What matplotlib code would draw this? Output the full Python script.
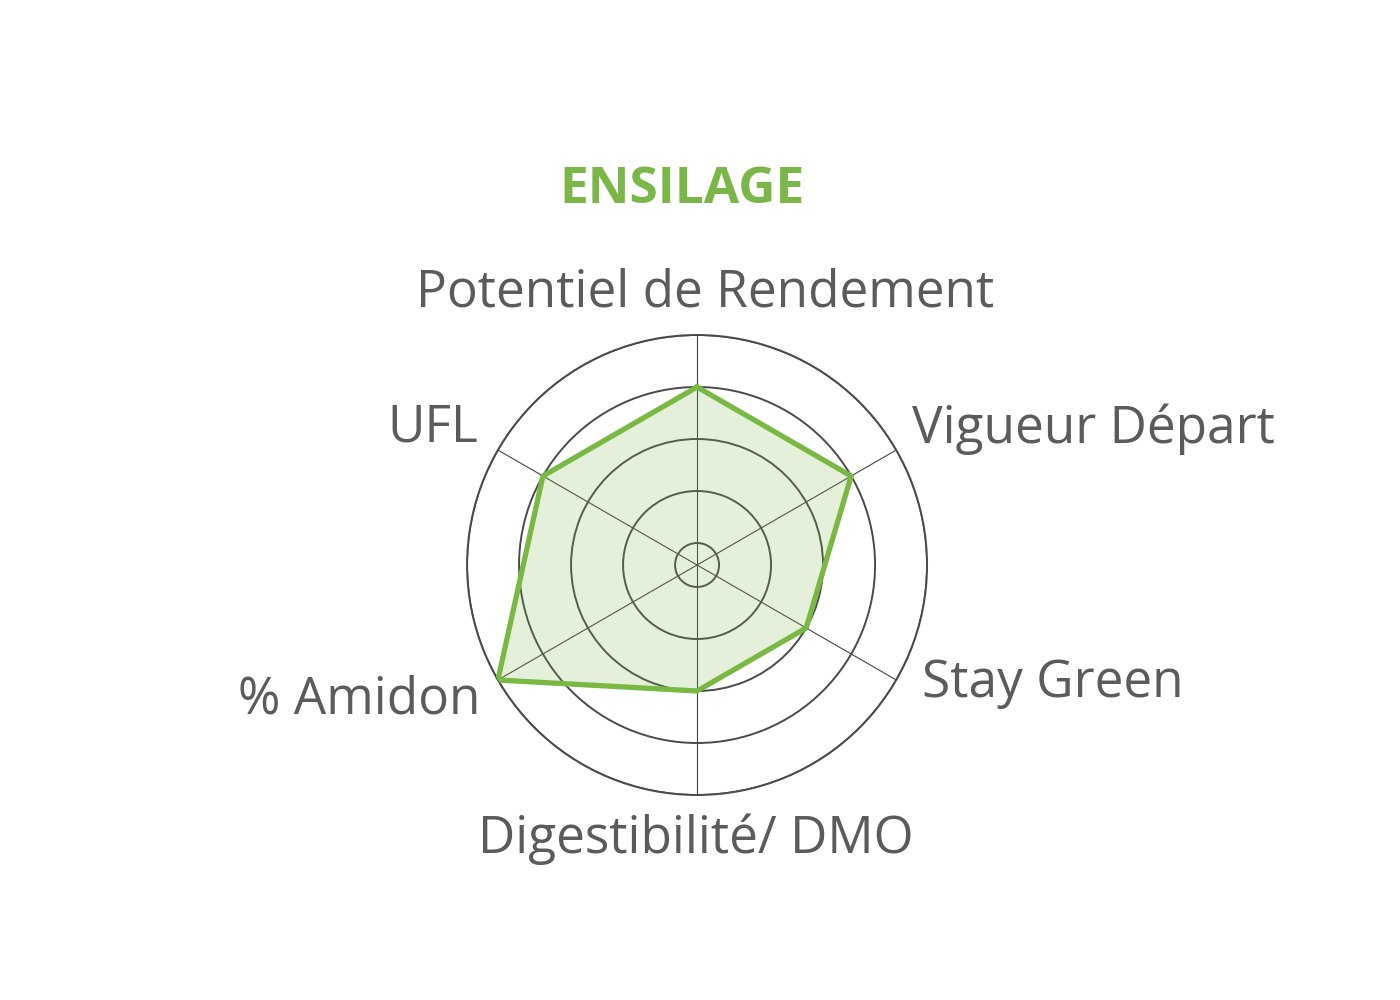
import numpy as np
import matplotlib.pyplot as plt

# données du radar
categories = ['Potentiel de Rendement', 'Vigueur Départ', 'Stay Green',
              'Digestibilité/ DMO', '% Amidon', 'UFL']
valeurs = [4, 4, 3, 3, 5, 4]
anneaux = [1, 2, 3, 4, 5]

vert = '#78b843'
gris = '#5b5b5d'
plt.rcParams['font.family'] = ['Open Sans', 'DejaVu Sans']

fig = plt.figure(figsize=(14, 10), dpi=100)
ax = fig.add_axes([0.3336, 0.205, 0.3286, 0.46], projection='polar')
ax.set_theta_zero_location('N')
ax.set_theta_direction(-1)

angles = np.deg2rad(np.arange(len(categories)) * 360 / len(categories))
ax.set_thetagrids(np.rad2deg(angles), [''] * len(categories))
ax.set_rgrids(anneaux, [''] * len(anneaux))
ax.set_ylim(0.577, 5)
ax.xaxis.grid(True, color='#444444', linewidth=0.8)
ax.yaxis.grid(True, color='#4a4a4a', linewidth=1.4)
ax.spines['polar'].set_color('#4a4a4a')
ax.spines['polar'].set_linewidth(1.4)
ax.set_facecolor('none')

a = np.append(angles, angles[0])
v = np.append(valeurs, valeurs[0])
ax.fill(a, v, color=vert, alpha=0.2, linewidth=0, zorder=2)
ax.plot(a, v, color=vert, linewidth=3.8, zorder=3)

# titre
fig.text(0.487, 0.797, 'ENSILAGE', color='#7ab648', fontsize=37,
         fontweight='bold', ha='center', va='baseline')

# étiquettes des axes
fs = 37
fig.text(0.5036, 1 - 307 / 1000, categories[0], color=gris, fontsize=fs, ha='center', va='baseline')
fig.text(912 / 1400, 1 - 443 / 1000, categories[1], color=gris, fontsize=fs, ha='left', va='baseline')
fig.text(922 / 1400, 1 - 697 / 1000, categories[2], color=gris, fontsize=fs, ha='left', va='baseline')
fig.text(696 / 1400, 1 - 853 / 1000, categories[3], color=gris, fontsize=fs, ha='center', va='baseline')
fig.text(480 / 1400, 1 - 713 / 1000, categories[4], color=gris, fontsize=fs, ha='right', va='baseline')
fig.text(478 / 1400, 1 - 442 / 1000, categories[5], color=gris, fontsize=fs, ha='right', va='baseline')

fig.savefig('out.png', dpi=100, facecolor='white')
